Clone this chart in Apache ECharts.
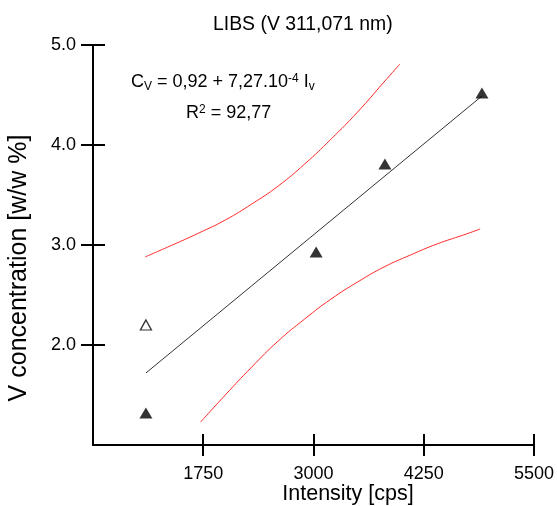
<!DOCTYPE html>
<html><head><meta charset="utf-8">
<script src="https://cdn.jsdelivr.net/npm/echarts@6/dist/echarts.min.js"></script>
<style>html,body{margin:0;padding:0;background:#fff}#c{width:557px;height:506px}</style>
</head><body><div id="c"></div>
<script>
const xTicks = [1750, 3000, 4250, 5500];
const yTicks = [2, 3, 4, 5];
const filledPoints = [[1100, 1.32], [3030, 2.93], [3810, 3.81], [4910, 4.52]];
const openPoints = [[1100, 2.2]];
const fitLine = [[1100, 1.72], [4910, 4.49]];
const upperBand = [[1090, 2.88], [1400, 3.00], [1700, 3.12], [2000, 3.25], [2300, 3.41], [2600, 3.59], [2900, 3.81], [3200, 4.06], [3500, 4.33], [3800, 4.63], [3980, 4.81]];
const lowerBand = [[1720, 1.23], [2000, 1.50], [2300, 1.78], [2600, 2.04], [2900, 2.26], [3200, 2.46], [3500, 2.63], [3800, 2.78], [4100, 2.90], [4400, 3.01], [4700, 3.10], [4890, 3.16]];

const FONT = 'Liberation Sans, Arial, sans-serif';
const chart = echarts.init(document.getElementById('c'), null, {renderer: 'canvas'});
const axisLineStyle = {color: '#000', width: 2};
chart.setOption({
  animation: false,
  backgroundColor: '#fff',
  grid: {left: 93, right: 22, top: 45, bottom: 61},
  xAxis: [
    {type: 'value', min: 500, max: 5500, interval: 1250, position: 'bottom',
     axisLine: {show: true, lineStyle: axisLineStyle},
     axisTick: {show: true, length: 11, customValues: xTicks, lineStyle: axisLineStyle},
     axisLabel: {customValues: xTicks, fontSize: 18, color: '#000', margin: 20, fontFamily: FONT,
                 formatter: v => String(v)},
     splitLine: {show: false}},
    {type: 'value', min: 500, max: 5500, interval: 1250, position: 'bottom', gridIndex: 0,
     axisLine: {show: false},
     axisTick: {show: true, inside: true, length: 11, customValues: xTicks, lineStyle: axisLineStyle},
     axisLabel: {show: false}, splitLine: {show: false}}
  ],
  yAxis: [
    {type: 'value', min: 1, max: 5, interval: 1, position: 'left',
     axisLine: {show: true, lineStyle: axisLineStyle},
     axisTick: {show: true, length: 12, customValues: yTicks, lineStyle: axisLineStyle},
     axisLabel: {customValues: yTicks, fontSize: 18, color: '#000', margin: 17, fontFamily: FONT,
                 formatter: v => v.toFixed(1)},
     splitLine: {show: false}},
    {type: 'value', min: 1, max: 5, interval: 1, position: 'left', gridIndex: 0,
     axisLine: {show: false},
     axisTick: {show: true, inside: true, length: 12, customValues: yTicks, lineStyle: axisLineStyle},
     axisLabel: {show: false}, splitLine: {show: false}}
  ],
  series: [
    {type: 'line', data: upperBand, smooth: true, symbol: 'none', lineStyle: {color: '#ff2a2a', width: 1}},
    {type: 'line', data: lowerBand, smooth: true, symbol: 'none', lineStyle: {color: '#ff2a2a', width: 1}},
    {type: 'line', data: fitLine, symbol: 'none', lineStyle: {color: '#333', width: 1}},
    {type: 'scatter', data: filledPoints, symbol: 'triangle', symbolSize: [13, 11],
     itemStyle: {color: '#000'}, z: 5},
    {type: 'scatter', data: openPoints, symbol: 'triangle', symbolSize: [11, 10],
     itemStyle: {color: '#fff', borderColor: '#000', borderWidth: 1.3}, z: 5}
  ],
  graphic: [
    {type: 'text', left: 213, top: 15, style: {text: 'LIBS (V 311,071 nm)', font: '19.4px ' + FONT, fill: '#000'}},
    {type: 'text', left: 131, top: 70, style: {
      text: '{n|C}{sub|V}{n| = 0,92 + 7,27.10}{sup|-4}{n| I}{sub|v}',
      rich: {
        n: {fontSize: 18, fontFamily: FONT, fill: '#000', lineHeight: 24, verticalAlign: 'middle'},
        sub: {fontSize: 12, fontFamily: FONT, fill: '#000', lineHeight: 24, verticalAlign: 'bottom', padding: [0, 0, 1, 0]},
        sup: {fontSize: 12, fontFamily: FONT, fill: '#000', lineHeight: 24, verticalAlign: 'top', padding: [3, 0, 0, 0]}
      }}},
    {type: 'text', left: 186, top: 101, style: {
      text: '{n|R}{sup|2}{n| = 92,77}',
      rich: {
        n: {fontSize: 18, fontFamily: FONT, fill: '#000', lineHeight: 24, verticalAlign: 'middle'},
        sup: {fontSize: 12, fontFamily: FONT, fill: '#000', lineHeight: 24, verticalAlign: 'top', padding: [3, 0, 0, 0]}
      }}},
    {type: 'text', x: 348, y: 494, style: {text: 'Intensity [cps]', font: '21.5px ' + FONT, fill: '#000',
      textAlign: 'center', textVerticalAlign: 'middle'}},
    {type: 'text', x: 19, y: 268, rotation: Math.PI / 2, style: {text: 'V concentration [w/w %]', font: '25px ' + FONT, fill: '#000',
      textAlign: 'center', textVerticalAlign: 'middle'}}
  ]
});
</script></body></html>
